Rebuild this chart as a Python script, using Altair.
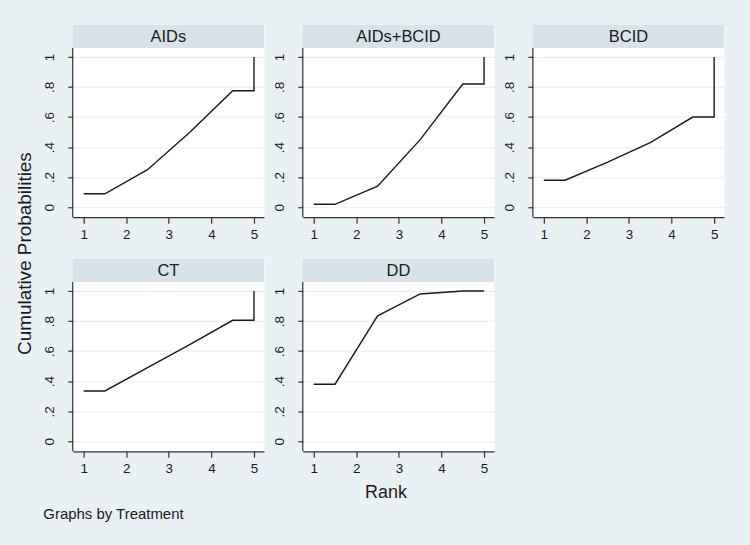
import altair as alt
import pandas as pd

# ---- data ----
treatments = ["AIDs", "AIDs+BCID", "BCID", "CT", "DD"]
rank_x = [1, 1.5, 2.5, 3.5, 4.5, 5, 5]
cum_aids = [0.09, 0.09, 0.25, 0.50, 0.775, 0.775, 1.0]
cum_aids_bcid = [0.02, 0.02, 0.14, 0.45, 0.82, 0.82, 1.0]
cum_bcid = [0.18, 0.18, 0.30, 0.43, 0.60, 0.60, 1.0]
cum_ct = [0.335, 0.335, 0.49, 0.645, 0.805, 0.805, 1.0]
cum_dd = [0.38, 0.38, 0.835, 0.98, 1.0, 1.0, 1.0]
series = {
    "AIDs": cum_aids,
    "AIDs+BCID": cum_aids_bcid,
    "BCID": cum_bcid,
    "CT": cum_ct,
    "DD": cum_dd,
}
x_ticks = [1, 2, 3, 4, 5]
y_ticks = [0, 0.2, 0.4, 0.6, 0.8, 1.0]

# ---- style ----
FONT = "Liberation Sans"
BG = "#eaf1f4"
HEADER = "#d7e2e9"
INK = "#1a1a1a"
AX = "#333333"
W, H, HH = 192, 170, 23          # panel width, plot height, header height
Y_LO = -0.066
Y_HI = Y_LO + (H + HH) / 151.0   # header lives above the data range


def panel(name, xtitle=None, ytitle=None):
    df = pd.DataFrame({"rank": rank_x, "p": series[name], "i": list(range(len(rank_x)))})
    xaxis_kw = dict(values=x_ticks, grid=False, tickSize=6, labelPadding=4,
                    format="d", labelFontSize=13.5)
    xaxis_kw.update(xtitle if xtitle is not None else dict(title=""))
    yaxis_kw = dict(values=y_ticks, grid=True, gridColor="#e8ecef",
                    domain=False, tickSize=5, labelAngle=270, labelAlign="center",
                    labelBaseline="bottom", labelPadding=11, labelFontSize=13.5,
                    labelExpr="datum.value == 0 ? '0' : datum.value == 1 ? '1' : '.' + format(datum.value * 10, 'd')")
    yaxis_kw.update(ytitle if ytitle is not None else dict(title=""))
    line = alt.Chart(df).mark_line(color=INK, strokeWidth=1.4).encode(
        x=alt.X("rank:Q", scale=alt.Scale(domain=[0.743, 5.234], nice=False, zero=False),
                axis=alt.Axis(**xaxis_kw)),
        y=alt.Y("p:Q", scale=alt.Scale(domain=[Y_LO, Y_HI], nice=False, zero=False),
                axis=alt.Axis(**yaxis_kw)),
        order="i:Q",
    )
    hdf = pd.DataFrame({"t": [name]})
    hrect = alt.Chart(hdf).mark_rect(fill=HEADER).encode(
        x=alt.value(0), x2=alt.value(W), y=alt.value(0), y2=alt.value(HH))
    htext = alt.Chart(hdf).mark_text(font=FONT, fontSize=16.5, color=INK,
                                     baseline="middle", align="center").encode(
        text="t:N", x=alt.value(W / 2), y=alt.value(HH / 2 + 1))
    yline = alt.Chart(hdf).mark_rule(color=AX, strokeWidth=1.2).encode(
        x=alt.value(0), y=alt.value(HH), y2=alt.value(HH + H))
    return alt.layer(line, hrect, htext, yline).properties(
        width=W, height=H + HH,
        view=alt.ViewBackground(fill="white", stroke="transparent"))


TXT = dict(titleFont=FONT, titleFontWeight="normal", titleColor=INK)
y_title = dict(title="Cumulative Probabilities", titleFontSize=19, titleAngle=270,
               titleX=-48, titleY=229, titleBaseline="middle", titleAlign="center", **TXT)
rank_title = dict(title="Rank", titleFontSize=18,
                  titleX=83, titleY=41, titleBaseline="middle", titleAlign="center", **TXT)
note_title = dict(title="Graphs by Treatment", titleFontSize=15,
                  titleX=-30, titleY=62, titleBaseline="middle", titleAlign="left",
                  titleAnchor="start", **TXT)

chart = alt.concat(
    panel("AIDs", ytitle=y_title), panel("AIDs+BCID"), panel("BCID"),
    panel("CT", xtitle=note_title), panel("DD", xtitle=rank_title),
    columns=3, spacing=alt.RowColnumber(row=42, column=39),
    bounds="flush",
).properties(
    padding={"left": 15, "top": 23, "right": 25, "bottom": 23}
).configure(background=BG).configure_view(
    stroke="transparent"
).configure_axis(
    domainColor=AX, tickColor=AX, labelColor=INK, labelFont=FONT,
    domainWidth=1.2, tickWidth=1.2,
)

chart.save("out.html", embed_options={"renderer": "svg", "actions": False})
